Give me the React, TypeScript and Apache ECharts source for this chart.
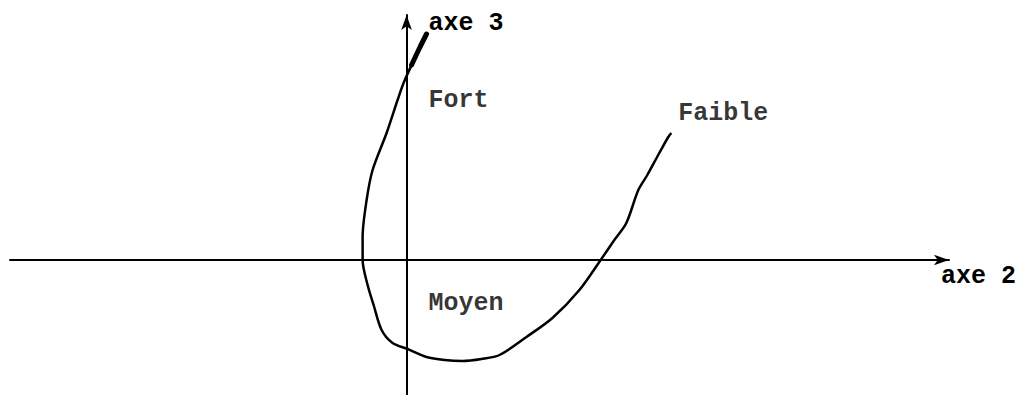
import React, { useEffect, useRef } from "react";
import * as echarts from "echarts";

// Curve through the modality points (factor-plane units, origin at axes crossing)
const curveX = [0.5, 0.325, 0.125, -0.075, -0.225, -0.5, -0.85, -1.0, -1.1, -1.1, -0.975, -0.825, -0.625, -0.35, 0.025, 0.5, 0.95, 1.4, 1.875, 2.325, 3.0, 3.65, 4.325, 4.875, 5.2, 5.5, 5.8, 6.025, 6.325, 6.55, 6.625];
const curveY = [5.65, 5.3, 4.875, 4.425, 4.0, 3.175, 2.25, 1.5, 0.575, 0, -0.625, -1.125, -1.75, -2.075, -2.225, -2.425, -2.5, -2.525, -2.475, -2.375, -1.925, -1.45, -0.75, 0.025, 0.5, 0.925, 1.75, 2.125, 2.675, 3.075, 3.175];

// Modality labels
const labelNames = ["Fort", "Faible", "Moyen"];
const labelX = [0.55, 6.8, 0.55];
const labelY = [4.0, 3.675, -1.075];

// Axis names
const axisXName = "axe 2";
const axisYName = "axe 3";

const X_MIN = -9.925;
const X_MAX = 13.575;
const Y_MIN = -3.375;
const Y_MAX = 6.125;

const FONT = "'Liberation Mono', 'Courier New', monospace";

export default function App() {
  const ref = useRef<HTMLDivElement>(null);
  useEffect(() => {
    if (!ref.current) return;
    const chart = echarts.init(ref.current, undefined, { renderer: "svg" });
    const curve = curveX.map((x, i) => [x, curveY[i]]);
    const labels = labelNames.map((n, i) => ({ name: n, value: [labelX[i], labelY[i]] }));
    const axisLine = {
      show: true,
      onZero: true,
      symbol: ["none", "arrow"],
      symbolSize: [8, 15],
      lineStyle: { color: "#000", width: 2 },
    };
    chart.setOption({
      animation: false,
      backgroundColor: "#fff",
      grid: { left: 10, right: 69, top: 15, bottom: 0, containLabel: false },
      xAxis: {
        type: "value",
        min: X_MIN,
        max: X_MAX,
        axisLine,
        axisTick: { show: false },
        axisLabel: { show: false },
        splitLine: { show: false },
        name: axisXName,
        nameLocation: "end",
        nameGap: -8,
        nameTextStyle: {
          fontFamily: FONT,
          fontSize: 25,
          fontWeight: "bold",
          color: "#000",
          align: "left",
          verticalAlign: "top",
          lineHeight: 25,
          padding: [4, 0, 0, 0],
        },
      },
      yAxis: {
        type: "value",
        min: Y_MIN,
        max: Y_MAX,
        axisLine,
        axisTick: { show: false },
        axisLabel: { show: false },
        splitLine: { show: false },
        name: axisYName,
        nameLocation: "end",
        nameGap: -8,
        nameTextStyle: {
          fontFamily: FONT,
          fontSize: 25,
          fontWeight: "bold",
          color: "#000",
          align: "left",
          verticalAlign: "middle",
          lineHeight: 25,
          padding: [0, 0, 0, 22],
        },
      },
      series: [
        {
          type: "line",
          data: curve,
          smooth: 0.3,
          symbol: "none",
          lineStyle: { color: "#000", width: 2.5 },
          z: 3,
        },
        {
          type: "line",
          data: curve.slice(0, 3),
          smooth: 0.3,
          symbol: "none",
          lineStyle: { color: "#000", width: 5, cap: "round" },
          z: 3,
        },
        {
          type: "scatter",
          data: labels,
          symbolSize: 0,
          label: {
            show: true,
            formatter: "{b}",
            position: [0, 0],
            align: "left",
            verticalAlign: "middle",
            fontFamily: FONT,
            fontSize: 25,
            fontWeight: "bold",
            color: "#000",
          },
          z: 4,
        },
      ],
    });
    return () => chart.dispose();
  }, []);
  return (
    <div
      ref={ref}
      style={{ position: "fixed", left: 0, top: 0, width: 1019, height: 395, background: "#fff" }}
    />
  );
}
